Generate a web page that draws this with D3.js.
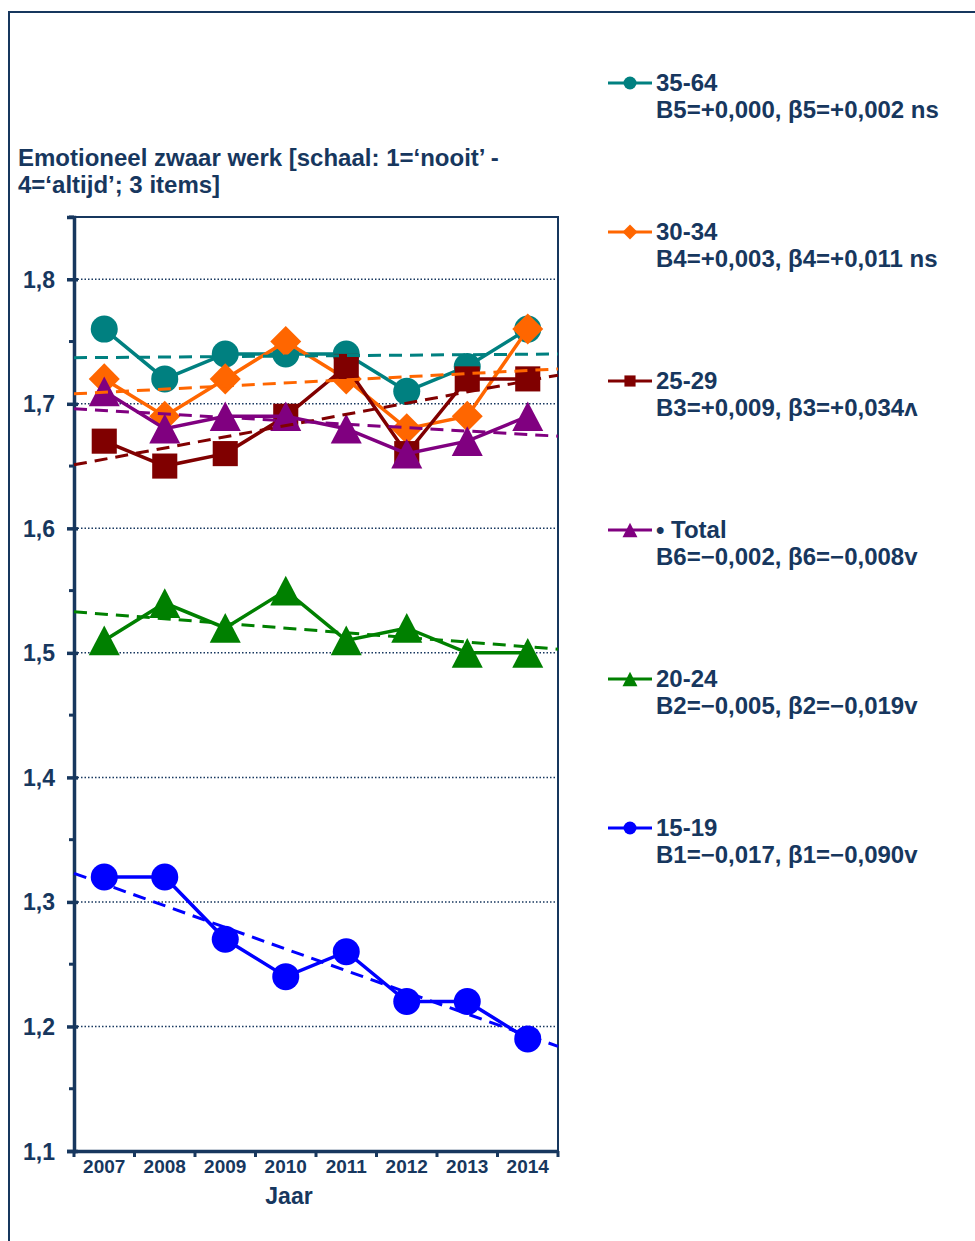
<!DOCTYPE html>
<html>
<head>
<meta charset="utf-8">
<script src="https://cdn.jsdelivr.net/npm/d3@7"></script>
<style>
    body { margin: 0; background: #ffffff; }
    svg text { font-family: "Liberation Sans", Arial, sans-serif; font-weight: bold; fill: #17375e; }
</style>
</head>
<body>
<div id="chart"></div>
<script>
// data
var years = ["2007", "2008", "2009", "2010", "2011", "2012", "2013", "2014"];
var seriesNames = ["35-64", "30-34", "25-29", "• Total", "20-24", "15-19"];
var seriesStats = [
    "B5=+0,000, β5=+0,002 ns",
    "B4=+0,003, β4=+0,011 ns",
    "B3=+0,009, β3=+0,034ʌ",
    "B6=−0,002, β6=−0,008v",
    "B2=−0,005, β2=−0,019v",
    "B1=−0,017, β1=−0,090v"
];
var values3564 = [1.76, 1.72, 1.74, 1.74, 1.74, 1.71, 1.73, 1.76];
var values3034 = [1.72, 1.69, 1.72, 1.75, 1.72, 1.68, 1.69, 1.76];
var values2529 = [1.67, 1.65, 1.66, 1.69, 1.73, 1.66, 1.72, 1.72];
var valuesTotal = [1.71, 1.68, 1.69, 1.69, 1.68, 1.66, 1.67, 1.69];
var values2024 = [1.51, 1.54, 1.52, 1.55, 1.51, 1.52, 1.50, 1.50];
var values1519 = [1.32, 1.32, 1.27, 1.24, 1.26, 1.22, 1.22, 1.19];
// trend line values at left and right edge of the plot
var trendStart = [1.737, 1.708, 1.651, 1.696, 1.533, 1.323];
var trendEnd = [1.740, 1.728, 1.723, 1.674, 1.503, 1.184];
var yTicks = [1.1, 1.2, 1.3, 1.4, 1.5, 1.6, 1.7, 1.8];
var yMinorTicks = [1.15, 1.25, 1.35, 1.45, 1.55, 1.65, 1.75, 1.85];

var allValues = [values3564, values3034, values2529, valuesTotal, values2024, values1519];
var colors = ["#008080", "#ff6600", "#800000", "#800080", "#008000", "#0000ff"];
var shapes = ["circle", "diamond", "square", "triangle", "triangle", "circle"];
var navy = "#17375e";

var width = 975, height = 1241;
var plotLeft = 74, plotRight = 558, plotTop = 217, plotBottom = 1151;

var svg = d3.select("#chart")
    .append("svg")
    .attr("width", width)
    .attr("height", height);

// outer frame
svg.append("path")
    .attr("d", "M9,1241 V12 H975")
    .attr("fill", "none")
    .attr("stroke", navy)
    .attr("stroke-width", 2);

var x = d3.scaleBand()
    .domain(years)
    .range([plotLeft, plotRight])
    .padding(0);

var y = d3.scaleLinear()
    .domain([1.1, 1.85])
    .range([plotBottom, plotTop]);

// marker path, s = size factor
function markerPath(shape, s) {
    var p = d3.path();
    if (shape == "circle") {
        p.arc(0, 0, s, 0, 2 * Math.PI);
    } else if (shape == "diamond") {
        p.moveTo(0, -s * 1.15); p.lineTo(s * 1.15, 0); p.lineTo(0, s * 1.15); p.lineTo(-s * 1.15, 0);
    } else if (shape == "square") {
        p.rect(-s * 0.93, -s * 0.93, s * 1.86, s * 1.86);
    } else {
        p.moveTo(0, -s * 1.1); p.lineTo(s * 1.15, s * 1.1); p.lineTo(-s * 1.15, s * 1.1);
    }
    p.closePath();
    return p.toString();
}

// plot border
svg.append("rect")
    .attr("x", plotLeft)
    .attr("y", plotTop)
    .attr("width", plotRight - plotLeft)
    .attr("height", plotBottom - plotTop)
    .attr("fill", "none")
    .attr("stroke", navy)
    .attr("stroke-width", 2);

// dotted gridlines
svg.selectAll("line.grid")
    .data(yTicks.slice(1))
    .enter()
    .append("line")
    .attr("class", "grid")
    .attr("x1", plotLeft)
    .attr("x2", plotRight)
    .attr("y1", function (d) { return y(d); })
    .attr("y2", function (d) { return y(d); })
    .attr("stroke", navy)
    .attr("stroke-width", 1.5)
    .attr("stroke-dasharray", "1.5,2");

// y axis
var yAxis = svg.append("g")
    .attr("transform", "translate(" + plotLeft + ",0)")
    .call(d3.axisLeft(y).tickValues(yTicks).tickSize(7).tickPadding(12)
        .tickFormat(function (d) { return d3.format(".1f")(d).replace(".", ","); }));
yAxis.select(".domain").attr("stroke", navy).attr("stroke-width", 3.5);
yAxis.selectAll(".tick line").attr("stroke", navy).attr("stroke-width", 3.5).attr("x2", -7).attr("x1", 4);
yAxis.selectAll(".tick text").style("font-size", "23px").attr("dy", "0.35em");

svg.selectAll("line.minor")
    .data(yMinorTicks)
    .enter()
    .append("line")
    .attr("class", "minor")
    .attr("x1", plotLeft - 5)
    .attr("x2", plotLeft)
    .attr("y1", function (d) { return y(d); })
    .attr("y2", function (d) { return y(d); })
    .attr("stroke", navy)
    .attr("stroke-width", 3);

// x axis
var xAxis = svg.append("g")
    .attr("transform", "translate(0," + plotBottom + ")")
    .call(d3.axisBottom(x).tickSize(0).tickPadding(9));
xAxis.select(".domain").attr("stroke", navy).attr("stroke-width", 3.5);
xAxis.selectAll(".tick text").style("font-size", "19px");

svg.selectAll("line.xtick")
    .data(years.concat(["end"]))
    .enter()
    .append("line")
    .attr("class", "xtick")
    .attr("x1", function (d, i) { return plotLeft + i * x.bandwidth(); })
    .attr("x2", function (d, i) { return plotLeft + i * x.bandwidth(); })
    .attr("y1", plotBottom)
    .attr("y2", plotBottom + 6)
    .attr("stroke", navy)
    .attr("stroke-width", 3);

svg.append("text")
    .attr("x", 289)
    .attr("y", 1204)
    .attr("text-anchor", "middle")
    .style("font-size", "23px")
    .text("Jaar");

// title
svg.append("text")
    .attr("x", 18)
    .attr("y", 166)
    .style("font-size", "24px")
    .text("Emotioneel zwaar werk [schaal: 1=‘nooit’ -");
svg.append("text")
    .attr("x", 18)
    .attr("y", 193)
    .style("font-size", "24px")
    .text("4=‘altijd’; 3 items]");

// series lines and markers
var line = d3.line()
    .x(function (d, i) { return x(years[i]) + x.bandwidth() / 2; })
    .y(function (d) { return y(d); });

allValues.forEach(function (vals, k) {
    var g = svg.append("g");
    g.append("path")
        .datum(vals)
        .attr("d", line)
        .attr("fill", "none")
        .attr("stroke", colors[k])
        .attr("stroke-width", 3.5);
    g.selectAll("path.marker")
        .data(vals)
        .enter()
        .append("path")
        .attr("class", "marker")
        .attr("d", markerPath(shapes[k], 13.5))
        .attr("transform", function (d, i) {
            return "translate(" + (x(years[i]) + x.bandwidth() / 2) + "," + y(d) + ")";
        })
        .attr("fill", colors[k]);
});

// dashed trend lines
svg.selectAll("line.trend")
    .data(trendStart)
    .enter()
    .append("line")
    .attr("class", "trend")
    .attr("x1", plotLeft)
    .attr("x2", plotRight)
    .attr("y1", function (d) { return y(d); })
    .attr("y2", function (d, i) { return y(trendEnd[i]); })
    .attr("stroke", function (d, i) { return colors[i]; })
    .attr("stroke-width", 3)
    .attr("stroke-dasharray", "13,8");

// legend
var legend = svg.selectAll("g.legend")
    .data(seriesNames)
    .enter()
    .append("g")
    .attr("class", "legend")
    .attr("transform", function (d, i) { return "translate(0," + (83 + i * 149) + ")"; });

legend.append("line")
    .attr("x1", 608)
    .attr("x2", 652)
    .attr("stroke", function (d, i) { return colors[i]; })
    .attr("stroke-width", 3);

legend.append("path")
    .attr("d", function (d, i) { return markerPath(shapes[i], shapes[i] == "square" ? 6 : 6.5); })
    .attr("transform", "translate(630,0)")
    .attr("fill", function (d, i) { return colors[i]; });

legend.append("text")
    .attr("x", 656)
    .attr("y", 8)
    .style("font-size", "24px")
    .text(function (d) { return d; });

legend.append("text")
    .attr("x", 656)
    .attr("y", 35)
    .style("font-size", "24px")
    .text(function (d, i) { return seriesStats[i]; });
</script>
</body>
</html>
